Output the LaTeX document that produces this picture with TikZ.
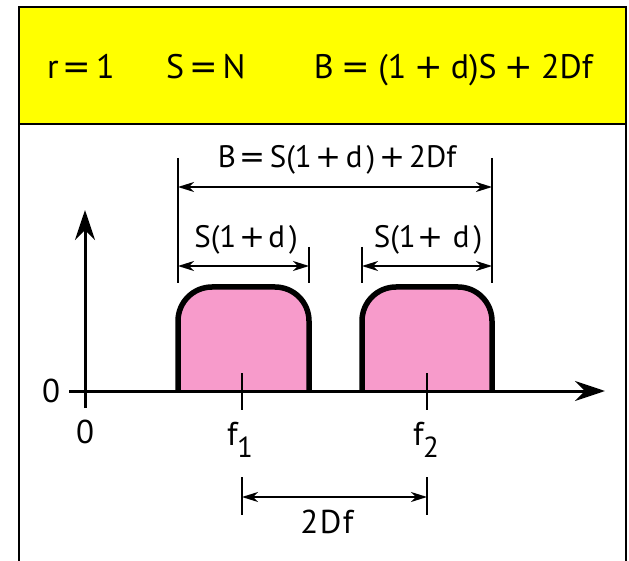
\documentclass[tikz,border=0pt]{standalone}
\usepackage{fontspec}
\setmainfont{PT Sans}
\newfontfamily\opfont{DejaVu Sans}
\newcommand\opEq{{\opfont =}}
\newcommand\opPl{{\opfont +}}
\usetikzlibrary{arrows.meta}
\definecolor{hdr}{RGB}{255,255,0}
\definecolor{pulsepink}{RGB}{247,155,203}
\tikzset{
  frameline/.style={line width=2.5pt, black},
  axisline/.style={line width=3pt, -{Stealth[length=30pt,width=20pt,inset=10pt]}},
  pulseshape/.style={fill=pulsepink, draw=black, line width=5.5pt, rounded corners=34pt},
  tickline/.style={line width=1.8pt},
  dimarrow/.style={line width=1.8pt, {Stealth[length=16pt,width=10pt,inset=5pt]}-{Stealth[length=16pt,width=10pt,inset=5pt]}},
  lbl/.style={inner sep=0pt, font=\fontsize{31}{34}\selectfont},
  biglbl/.style={inner sep=0pt, font=\fontsize{33}{36}\selectfont},
  hdrtxt/.style={inner sep=0pt, font=\fontsize{34}{38}\selectfont},
}
\begin{document}
\begin{tikzpicture}[x=1pt,y=-1pt]
\useasboundingbox (0,0) rectangle (629,561);
% header
\fill[hdr] (19,7) rectangle (626,124);
\draw[frameline] (19,564) -- (19,7) -- (626,7) -- (626,564);
\draw[frameline] (19,124) -- (626,124);
\node[hdrtxt, anchor=base west] (hr) at (47,79) {r\hspace{4pt}\opEq\hspace{5pt}1};
\node[hdrtxt, anchor=base west] (hs) at (166,79) {S\hspace{5pt}\opEq\hspace{5pt}N};
\node[hdrtxt, anchor=base east] (hb) at (593,79) {B\hspace{8pt}\opEq\hspace{8pt}(1\hspace{8pt}\opPl\hspace{8pt}d)S\hspace{8pt}\opPl\hspace{8pt}2Df};
% pulses
\draw[pulseshape, fill=pulsepink] (178,391) -- (178,287) -- (309,287) -- (309,391);
\draw[pulseshape, fill=pulsepink] (362,391) -- (362,287) -- (492,287) -- (492,391);
% coordinates
\coordinate (o) at (85,391);
\coordinate (xstart) at (69,391);
\coordinate (xend) at (605,391);
\coordinate (ystart) at (85,408);
\coordinate (yend) at (85,210);
% axes
\draw[axisline] (xstart) -- (xend);
\draw[axisline] (ystart) -- (yend);
% center ticks
\coordinate (f1top) at (242,373);
\coordinate (f1bot) at (242,410);
\coordinate (f2top) at (427,373);
\coordinate (f2bot) at (427,410);
\draw[tickline] (f1top) -- (f1bot);
\draw[tickline] (f2top) -- (f2bot);
% dimension ticks
\coordinate (bLt) at (178,158); \coordinate (bLb) at (178,283);
\coordinate (bRt) at (492,158); \coordinate (bRb) at (492,283);
\coordinate (s1Rt) at (309,247); \coordinate (s1Rb) at (309,283);
\coordinate (s2Lt) at (362,247); \coordinate (s2Lb) at (362,283);
\draw[tickline] (bLt) -- (bLb);
\draw[tickline] (bRt) -- (bRb);
\draw[tickline] (s1Rt) -- (s1Rb);
\draw[tickline] (s2Lt) -- (s2Lb);
\coordinate (bA) at (178,187); \coordinate (bB) at (492,187);
\coordinate (s1A) at (178,266); \coordinate (s1B) at (309,266);
\coordinate (s2A) at (362,266); \coordinate (s2B) at (492,266);
\draw[dimarrow] (bA) -- (bB);
\draw[dimarrow] (s1A) -- (s1B);
\draw[dimarrow] (s2A) -- (s2B);
% 2Df dimension
\coordinate (dLt) at (242,477); \coordinate (dLb) at (242,515);
\coordinate (dRt) at (427,477); \coordinate (dRb) at (427,515);
\draw[tickline] (dLt) -- (dLb);
\draw[tickline] (dRt) -- (dRb);
\coordinate (dA) at (242,497); \coordinate (dB) at (427,497);
\draw[dimarrow] (dA) -- (dB);
% labels
\node[lbl, anchor=base] (lb) at (337,168) {B\hspace{4pt}\opEq\hspace{4pt}S(1\hspace{4pt}\opPl\hspace{4pt}d\kern4pt)\hspace{4pt}\opPl\hspace{4pt}2Df};
\node[lbl, anchor=base] (ls1) at (246,248) {S(1\hspace{3pt}\opPl\hspace{3pt}d\kern4pt)};
\node[lbl, anchor=base] (ls2) at (428,248) {S(1\hspace{2pt}\opPl\hspace{9pt}d\kern4pt)};
\node[biglbl, anchor=base] (ldf) at (327,533) {2\kern1.5pt D\kern1.5pt f};
\node[biglbl, anchor=base] (lf1) at (240,445) {f\kern-0.5pt\raisebox{-12pt}{\fontsize{29}{30}\selectfont 1}};
\node[biglbl, anchor=base] (lf2) at (426,445) {f\kern-0.5pt\raisebox{-12pt}{\fontsize{29}{30}\selectfont 2}};
\node[biglbl, anchor=base] (lzx) at (85,443) {0};
\node[biglbl] (lzy) at (51,391) {0};
\end{tikzpicture}
\end{document}
